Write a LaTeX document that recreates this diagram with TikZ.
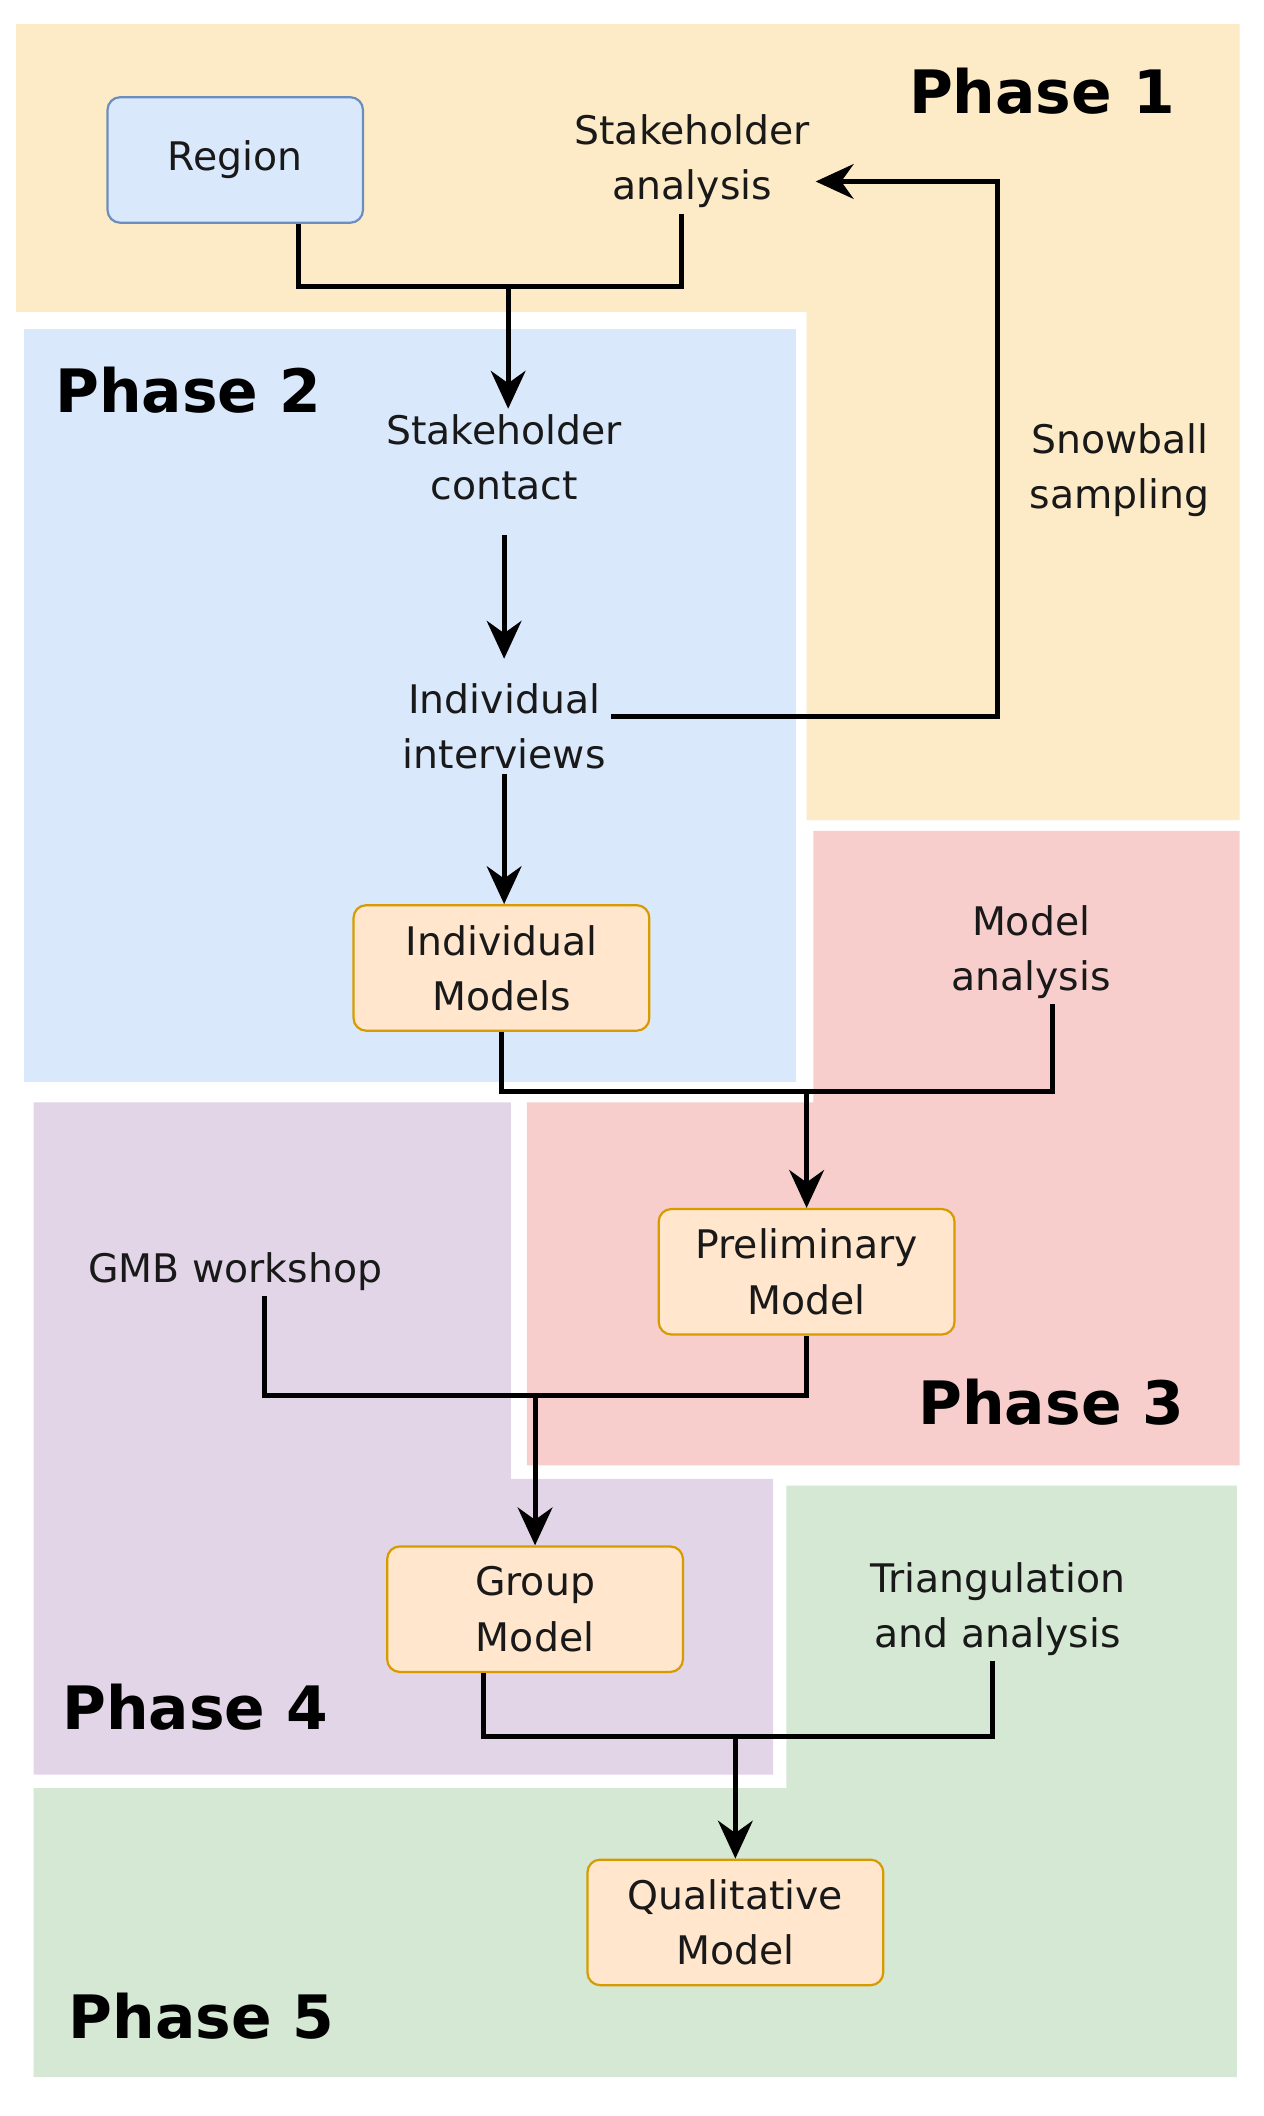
\documentclass[tikz,border=0pt]{standalone}
\usepackage{fontspec}
\setmainfont{DejaVu Sans}
\usetikzlibrary{arrows.meta}
\definecolor{yel}{HTML}{FCEBC6}
\definecolor{blu}{HTML}{DAE8FC}
\definecolor{red}{HTML}{F8CECC}
\definecolor{pur}{HTML}{E1D5E7}
\definecolor{grn}{HTML}{D5E8D4}
\definecolor{obox}{HTML}{FFE6CC}
\definecolor{ostr}{HTML}{D79B00}
\definecolor{bstr}{HTML}{6C8EBF}
\begin{document}
\begin{tikzpicture}[x=0.03cm,y=-0.03cm,
 txt/.style={font=\fontsize{25}{35}\selectfont,align=center,text=black!90},
 ph/.style={font=\fontsize{38}{44}\selectfont\bfseries},
 box/.style={txt,draw=ostr,fill=obox,rounded corners=8pt,line width=1.4pt,minimum width=6.6cm,minimum height=2.8cm,inner sep=0pt},
 ln/.style={line width=3.2pt,black},
 ar/.style={ln,-{Stealth[length=24pt,width=22pt]}}]
\useasboundingbox (0,0) rectangle (940,1574);
\fill[white] (0,0) rectangle (940,1574);
\fill[yel] (12,18) -- (922,18) -- (922,610) -- (600,610) -- (600,232) -- (12,232) -- cycle;
\fill[blu] (18,245) rectangle (592,805);
\fill[red] (605,618) -- (922,618) -- (922,1090) -- (392,1090) -- (392,820) -- (605,820) -- cycle;
\fill[pur] (25,820) -- (380,820) -- (380,1100) -- (575,1100) -- (575,1320) -- (25,1320) -- cycle;
\fill[grn] (585,1105) -- (920,1105) -- (920,1545) -- (25,1545) -- (25,1330) -- (585,1330) -- cycle;

\node[ph] (p1) at (775,68) {Phase 1};
\node[ph] (p2) at (140,290) {Phase 2};
\node[ph] (p3) at (782,1043) {Phase 3};
\node[ph] (p4) at (145,1270) {Phase 4};
\node[ph] (p5) at (150,1500) {Phase 5};

\node[txt,draw=bstr,fill=blu,rounded corners=8pt,line width=1.4pt,minimum width=5.7cm,minimum height=2.8cm] (reg) at (175,119) {Region};
\node[txt] (sa) at (515,120) {Stakeholder\\analysis};
\node[txt] (sc) at (375,340) {Stakeholder\\contact};
\node[txt] (ii) at (375,540) {Individual\\interviews};
\node[txt] (sb) at (833,350) {Snowball\\sampling};
\node[box] (im) at (373,720) {Individual\\Models};
\node[txt] (ma) at (767,708) {Model\\analysis};
\node[box] (pm) at (600,946) {Preliminary\\Model};
\node[txt] (gw) at (175,946) {GMB workshop};
\node[box] (gm) at (398,1197) {Group\\Model};
\node[txt] (ta) at (742,1197) {Triangulation\\and analysis};
\node[box] (qm) at (547,1430) {Qualitative\\Model};

\coordinate (j1) at (378,213);
\draw[ln] (reg.south -| 222,0) |- (j1) -| (sa.south -| 507,0);
\draw[ar] (j1) -- (j1 |- sc.north);
\draw[ar] (375,398) -- (375,490);
\draw[ar] (ii.south -| 375,0) -- (im.north -| 375,0);
\draw[ar] (ii.east |- 0,533) -| (742,135) -- (sa.east |- 0,135);
\coordinate (j2) at (600,812);
\draw[ln] (im.south) |- (j2) -| (ma.south -| 783,0);
\draw[ar] (j2) -- (pm.north);
\coordinate (j3) at (398,1038);
\draw[ln] (gw.south -| 197,0) |- (j3) -| (pm.south);
\draw[ar] (j3) -- (gm.north);
\coordinate (j4) at (547,1292);
\draw[ln] (gm.south -| 360,0) |- (j4) -| (ta.south -| 738,0);
\draw[ar] (j4) -- (qm.north);
\end{tikzpicture}
\end{document}
